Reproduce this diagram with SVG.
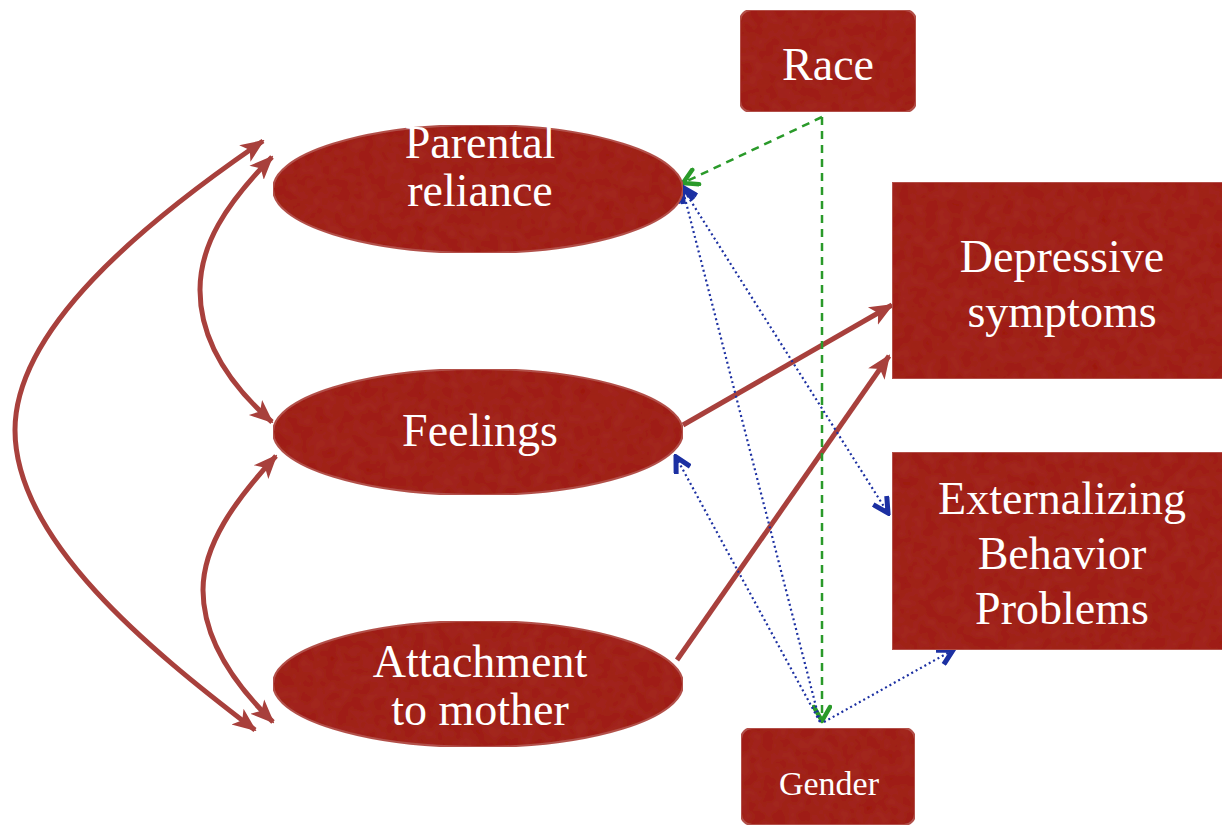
<svg xmlns="http://www.w3.org/2000/svg" width="1222" height="826" viewBox="0 0 1222 826">
<style>
.node{fill:#9d1e18;stroke:#b0504a;stroke-width:2}
.lbl{font-family:"Liberation Serif","Times New Roman",serif;fill:#ffffff;font-size:46px;text-anchor:middle}
.red{fill:none;stroke:#a8403c;stroke-width:5}
.green{fill:none;stroke:#2a9a2a;stroke-width:2.5;stroke-dasharray:8 6}
.blue{fill:none;stroke:#1c30a2;stroke-width:2.2;stroke-dasharray:2 3}
</style>
<defs>
<filter id="tex" x="0" y="0" width="1" height="1">
<feTurbulence type="fractalNoise" baseFrequency="0.08" numOctaves="2" seed="3" result="n"/>
<feColorMatrix in="n" type="matrix" values="0 0 0 0 0.62  0 0 0 0 0.12  0 0 0 0 0.09  0 0 0 0.12 0" result="c"/>
<feComposite in="c" in2="SourceGraphic" operator="in" result="ci"/>
<feMerge><feMergeNode in="SourceGraphic"/><feMergeNode in="ci"/></feMerge>
</filter>
<marker id="ar" viewBox="0 0 24 24" markerUnits="userSpaceOnUse" markerWidth="24" markerHeight="24" refX="22" refY="12" orient="auto-start-reverse">
<path d="M0,2 L24,12 L0,22 L6,12 Z" fill="#a8403c"/>
</marker>
<marker id="ag" viewBox="0 0 20 20" markerUnits="userSpaceOnUse" markerWidth="20" markerHeight="20" refX="17" refY="10" orient="auto-start-reverse">
<path d="M3,2 L17,10 L3,18" fill="none" stroke="#2a9a2a" stroke-width="4.5" stroke-linecap="round" stroke-linejoin="round"/>
</marker>
<marker id="ab" viewBox="0 0 20 20" markerUnits="userSpaceOnUse" markerWidth="20" markerHeight="20" refX="17" refY="10" orient="auto-start-reverse">
<path d="M2,2 L17,10 L2,18" fill="none" stroke="#1c30a2" stroke-width="5" stroke-linejoin="miter"/>
</marker>
</defs>
<rect width="1222" height="826" fill="#ffffff"/>

<g id="connectors">
<path class="red" d="M263,141 C140,225 15,330 15,430 C15,540 150,650 255,730" marker-start="url(#ar)" marker-end="url(#ar)"/>
<path class="red" d="M272,157 C225,205 200,245 200,290 C200,340 230,385 272,422" marker-start="url(#ar)" marker-end="url(#ar)"/>
<path class="red" d="M276,456 C235,500 203,545 203,590 C203,640 235,685 273,722" marker-start="url(#ar)" marker-end="url(#ar)"/>
<path class="red" d="M683,425 L892,305" marker-end="url(#ar)"/>
<path class="red" d="M677,660 L889,356" marker-end="url(#ar)"/>
<path class="green" d="M822,117 L683,183" marker-end="url(#ag)"/>
<path class="green" d="M822,117 L822,721" marker-end="url(#ag)"/>
<path class="blue" d="M820,722 L682,187" marker-end="url(#ab)"/>
<path class="blue" d="M682,187 L888,513" marker-start="url(#ab)" marker-end="url(#ab)"/>
<path class="blue" d="M820,722 L676,457" marker-end="url(#ab)"/>
<path class="blue" d="M824,722 L953,650" marker-end="url(#ab)"/>
</g>

<g id="race">
<rect class="node" filter="url(#tex)" x="740" y="10" width="176" height="102" rx="11"/>
<text class="lbl" x="828" y="80">Race</text>
</g>
<g id="parental-reliance">
<ellipse class="node" filter="url(#tex)" cx="478" cy="189" rx="205" ry="64"/>
<text class="lbl" x="480" y="158">Parental</text>
<text class="lbl" x="480" y="206">reliance</text>
</g>
<g id="feelings">
<ellipse class="node" filter="url(#tex)" cx="478" cy="432" rx="205" ry="63"/>
<text class="lbl" x="480" y="446">Feelings</text>
</g>
<g id="attachment-to-mother">
<ellipse class="node" filter="url(#tex)" cx="478" cy="684" rx="205" ry="63"/>
<text class="lbl" x="480" y="677">Attachment</text>
<text class="lbl" x="480" y="725">to mother</text>
</g>
<g id="depressive-symptoms">
<rect class="node" filter="url(#tex)" x="892" y="182" width="332" height="197"/>
<text class="lbl" x="1062" y="272">Depressive</text>
<text class="lbl" x="1062" y="327">symptoms</text>
</g>
<g id="externalizing">
<rect class="node" filter="url(#tex)" x="892" y="452" width="332" height="198"/>
<text class="lbl" x="1062" y="514">Externalizing</text>
<text class="lbl" x="1062" y="569">Behavior</text>
<text class="lbl" x="1062" y="624">Problems</text>
</g>
<g id="gender">
<rect class="node" filter="url(#tex)" x="741" y="728" width="174" height="97" rx="11"/>
<text class="lbl" x="829" y="795" style="font-size:34px">Gender</text>
</g>
</svg>
